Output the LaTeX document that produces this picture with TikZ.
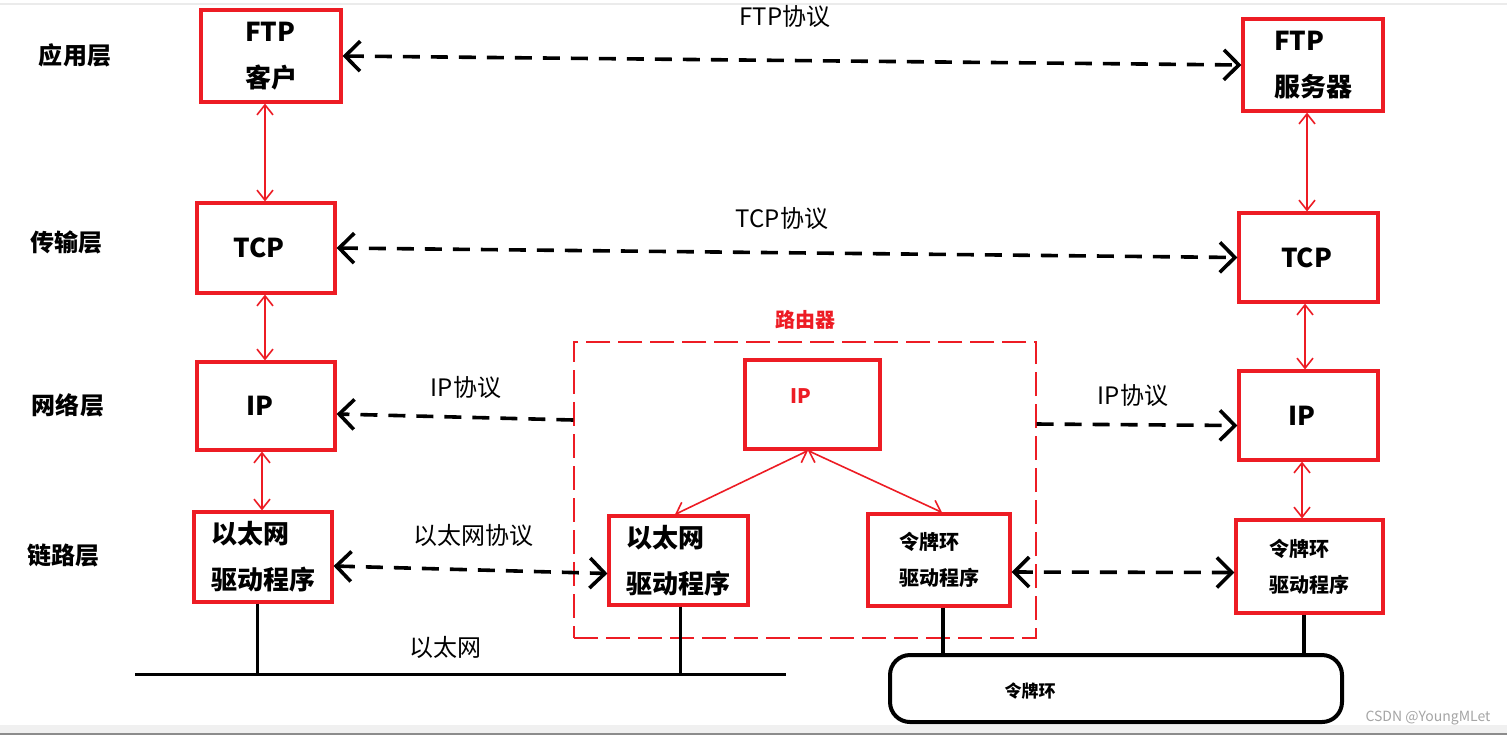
\documentclass[tikz,border=0pt]{standalone}
\usepackage{fontspec}
\setmainfont{Noto Sans CJK SC}
\usetikzlibrary{arrows.meta}
\definecolor{boxred}{RGB}{237,28,36}
\definecolor{wm}{RGB}{165,165,165}
\begin{document}
\begin{tikzpicture}[x=0.5pt,y=-0.5pt,
  redbox/.style={draw=boxred, line width=1.6pt, inner sep=0pt, align=left,
    font=\bfseries\fontsize{13}{23}\selectfont},
  smallbox/.style={redbox, font=\bfseries\fontsize{10}{18}\selectfont},
  layer/.style={font=\bfseries\fontsize{12}{14}\selectfont},
  plabel/.style={font=\fontsize{12}{14}\selectfont},
  proto/.style={line width=1.8pt, dash pattern=on 8.5pt off 5.5pt,
    {Straight Barb[length=7.5pt,width=15pt]}-{Straight Barb[length=7.5pt,width=15pt]}},
  protoone/.style={line width=1.8pt, dash pattern=on 8.5pt off 5.5pt,
    -{Straight Barb[length=7.5pt,width=15pt]}},
  redarrow/.style={draw=boxred, line width=0.8pt,
    {Straight Barb[length=5pt,width=8pt]}-{Straight Barb[length=5pt,width=8pt]}},
  wire/.style={line width=1.5pt}
]
\useasboundingbox (0,0) rectangle (1507,735);
\fill[white] (0,0) rectangle (1507,735);
\fill[black!8] (0,3) rectangle (1507,5);
\fill[black!6] (0,725) rectangle (1507,733);
\fill[black!45] (0,733) rectangle (1507,735);

% layer labels
\node[layer] (l1) at (75,55) {应用层};
\node[layer] (l2) at (66,242) {传输层};
\node[layer] (l3) at (68,405) {网络层};
\node[layer] (l4) at (63,555) {链路层};

% boxes
\node[redbox, minimum width=70pt, minimum height=46pt] (ftpc) at (271,56) {FTP\\客户\hspace{6pt}};
\node[redbox, minimum width=70pt, minimum height=46pt] (ftps) at (1313,65) {FTP\\服务器};
\node[redbox, minimum width=69pt, minimum height=45pt] (tcpl) at (266,248) {TCP\hspace{7pt}};
\node[redbox, minimum width=69.5pt, minimum height=44.5pt] (tcpr) at (1308.5,257.5) {TCP\hspace{2pt}};
\node[redbox, minimum width=69pt, minimum height=44pt] (ipl) at (266,406) {IP\hspace{6pt}};
\node[redbox, minimum width=69.5pt, minimum height=44.5pt] (ipr) at (1308.5,415.5) {IP\hspace{7pt}};
\node[redbox, minimum width=69pt, minimum height=45pt] (ethl) at (263,557) {以太网\\驱动程序};

% router
\node[draw=boxred, line width=0.6pt, dash pattern=on 12pt off 4pt,
  minimum width=231pt, minimum height=148pt, inner sep=0pt] (router) at (805,490) {};
\node[font=\bfseries\fontsize{10}{12}\selectfont, text=boxred] (rlabel) at (805,320) {路由器};
\node[redbox, minimum width=67.5pt, minimum height=44.5pt,
  label={[xshift=-6pt,yshift=4pt,text=boxred,font=\bfseries\fontsize{10}{12}\selectfont]center:IP}] (ipm) at (812.5,404.5) {};
\node[redbox, minimum width=69.5pt, minimum height=44.5pt] (ethm) at (678.5,560.5) {以太网\\驱动程序};
\node[smallbox, minimum width=71pt, minimum height=46pt] (trm) at (939,560) {令牌环\\驱动程序};
\node[smallbox, minimum width=73.5pt, minimum height=46.5pt] (trr) at (1309.5,566.5) {令牌环\\驱动程序};

% token ring
\node[draw, line width=2pt, rounded corners=10pt, minimum width=226pt, minimum height=33.5pt,
  inner sep=0pt,
  label={[xshift=-43pt,yshift=-1pt,font=\bfseries\fontsize{8.5}{10}\selectfont]center:令牌环}] (ring) at (1116,688.5) {};

% ethernet bus
\coordinate (eb1) at (135,674);
\coordinate (eb2) at (786,674);
\draw[wire] (eb1) -- (eb2);
\node[plabel] (ethlabel) at (445,647) {以太网};
\draw[wire] ([xshift=-3pt]ethl.south) -- ([xshift=-3pt]ethl.south |- eb1);
\draw[wire] ([xshift=0.75pt]ethm.south) -- ([xshift=0.75pt]ethm.south |- eb1);
\draw[line width=2pt] ([xshift=2pt]trm.south) -- ([xshift=2pt]trm.south |- ring.north);
\draw[line width=2pt] ([xshift=-2.75pt]trr.south) -- ([xshift=-2.75pt]trr.south |- ring.north);

% peer protocols
\draw[proto] (ftpc.east) -- (ftps.west);
\node[plabel] (ftpp) at (785,16) {FTP协议};
\draw[proto] (tcpl.east) -- (tcpr.west);
\node[plabel] (tcpp) at (782,218) {TCP协议};
\draw[protoone] ([yshift=35pt]router.west) -- ([yshift=-4pt]ipl.east);
\node[plabel] (ipp1) at (466,387) {IP协议};
\draw[protoone] ([yshift=33pt]router.east) -- ([yshift=-5pt]ipr.west);
\node[plabel] (ipp2) at (1133,395) {IP协议};
\draw[proto] ([yshift=-4.5pt]ethl.east) -- ([yshift=-6.5pt]ethm.west);
\node[plabel] (ethp) at (473,535) {以太网协议};
\draw[proto] ([yshift=-6pt]trm.east) -- ([yshift=-3pt]trr.west);

% vertical stack arrows
\draw[redarrow] ([xshift=-3pt]ftpc.south) -- ([xshift=-0.5pt]tcpl.north);
\draw[redarrow] ([xshift=-3pt]ftps.south) -- ([xshift=-0.75pt]tcpr.north);
\draw[redarrow] ([xshift=-0.5pt]tcpl.south) -- ([xshift=-0.5pt]ipl.north);
\draw[redarrow] ([xshift=-1.75pt]tcpr.south) -- ([xshift=-1.75pt]ipr.north);
\draw[redarrow] ([xshift=-2pt]ipl.south) -- ([xshift=-0.5pt]ethl.north);
\draw[redarrow] ([xshift=-3.25pt]ipr.south) -- ([xshift=-3.75pt]trr.north);
\draw[redarrow] ([xshift=-2.25pt]ipm.south) -- ([xshift=-1.75pt]ethm.north);
\draw[redarrow] ([xshift=-2.25pt]ipm.south) -- ([xshift=1.5pt]trm.north);

% watermark
\node[text=wm, font=\fontsize{7}{8}\selectfont] (wmk) at (1428,718) {CSDN @YoungMLet};
\end{tikzpicture}
\end{document}
